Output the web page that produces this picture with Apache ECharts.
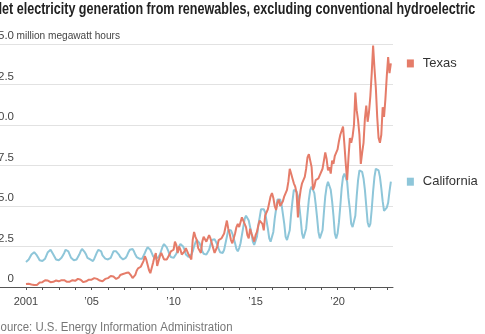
<!DOCTYPE html>
<html><head><meta charset="utf-8">
<script src="https://cdn.jsdelivr.net/npm/echarts@6/dist/echarts.min.js"></script>
<style>html,body{margin:0;padding:0;background:#fff;overflow:hidden}#c{width:485px;height:334px}</style>
</head><body><div id="c"></div>
<script>
// Monthly data, Jan 2001 onward (million megawatt hours)
const startYear = 2001;
const texas = [
  0.18,0.17,0.2,0.18,0.15,0.13,0.12,0.12,0.13,0.2,0.28,0.3,
  0.3,0.38,0.42,0.45,0.4,0.38,0.3,0.28,0.32,0.38,0.4,0.38,
  0.35,0.4,0.42,0.45,0.42,0.4,0.32,0.3,0.33,0.38,0.42,0.4,
  0.38,0.45,0.5,0.52,0.45,0.42,0.3,0.32,0.35,0.4,0.45,0.48,
  0.45,0.5,0.55,0.58,0.5,0.45,0.4,0.3,0.35,0.45,0.5,0.55,
  0.55,0.6,0.68,0.7,0.65,0.6,0.5,0.45,0.6,0.74,0.78,0.8,
  0.85,0.86,0.95,0.9,0.8,0.7,0.55,0.6,0.75,1.0,1.15,1.2,
  1.25,1.3,1.6,1.9,1.7,1.6,1.05,0.85,0.8,1.5,1.85,2.1,
  1.3,1.6,1.9,2.1,1.9,1.7,1.6,1.7,1.8,2.0,2.2,2.3,
  2.3,2.8,2.6,2.1,2.5,2.3,2.0,2.1,2.2,2.4,2.3,2.0,
  1.9,1.7,2.9,3.4,3.1,2.9,2.4,2.3,2.1,2.8,3.1,3.0,
  2.8,3.0,3.2,3.0,2.7,2.4,2.1,2.2,2.5,2.9,2.8,3.0,
  3.0,3.3,3.7,4.1,3.6,3.3,2.9,2.7,2.6,3.3,3.7,3.9,
  3.7,3.6,4.3,4.2,3.9,3.7,3.2,3.0,3.6,3.3,3.2,2.8,
  3.2,3.4,3.8,4.1,4.0,3.9,3.5,4.4,4.3,4.8,5.2,5.6,
  5.8,5.5,5.0,4.75,5.2,5.4,5.0,4.9,5.3,5.6,5.8,6.0,
  6.5,7.3,7.0,6.7,6.4,6.2,5.8,4.3,5.4,6.0,6.4,6.6,
  6.8,7.3,8.0,8.2,8.3,7.4,6.0,6.2,6.6,6.5,6.7,6.9,
  7.0,7.3,7.8,8.3,7.9,7.2,7.4,7.0,7.8,7.6,8.1,8.3,
  8.5,9.0,9.4,9.5,9.9,8.8,7.6,6.6,8.0,9.2,8.9,9.3,
  10.0,12.0,10.9,10.3,9.4,7.6,8.3,8.9,10.4,11.2,10.2,10.8,
  11.8,13.2,14.9,13.5,12.3,10.5,9.2,8.9,9.4,11.1,10.5,11.6,
  13.0,14.2,13.2,13.8
];
const california = [
  1.55,1.6,1.7,1.85,2.0,2.1,2.15,2.1,1.95,1.8,1.65,1.6,
  1.6,1.65,1.75,1.95,2.15,2.25,2.3,2.2,2.0,1.85,1.7,1.65,
  1.65,1.6,1.8,1.95,2.1,2.3,2.25,2.2,2.0,1.8,1.7,1.65,
  1.65,1.7,1.85,2.0,2.2,2.35,2.3,2.15,2.0,1.8,1.7,1.7,
  1.65,1.6,1.75,1.95,2.15,2.3,2.25,2.2,1.95,1.85,1.75,1.7,
  1.7,1.75,1.8,2.0,2.2,2.3,2.2,2.15,2.0,1.85,1.75,1.7,
  1.75,1.8,1.95,2.15,2.3,2.4,2.35,2.2,2.0,1.85,1.8,1.75,
  1.7,1.75,1.85,2.1,2.3,2.45,2.4,2.3,2.1,1.9,1.8,1.75,
  1.75,1.85,2.0,2.25,2.5,2.65,2.6,2.45,2.25,2.0,1.85,1.8,
  1.8,1.9,2.05,2.3,2.5,2.65,2.6,2.5,2.3,2.0,1.9,1.85,
  1.9,2.0,2.2,2.5,2.75,2.9,2.8,2.7,2.5,2.2,2.05,1.95,
  2.0,2.1,2.3,2.6,2.9,3.0,2.95,2.8,2.6,2.35,2.15,2.05,
  2.1,2.3,2.7,3.1,3.5,3.6,3.5,3.3,3.0,2.7,2.35,2.2,
  2.4,2.7,3.2,3.7,4.2,4.4,4.3,4.1,3.7,3.3,2.8,2.6,
  2.7,3.1,3.8,4.3,4.8,4.9,4.8,4.6,4.1,3.6,3.0,2.8,
  2.9,3.4,4.2,4.8,5.4,5.5,5.4,5.1,4.5,3.9,3.1,2.9,
  3.0,3.5,4.5,5.3,6.0,6.1,5.9,5.6,5.0,4.2,3.3,3.0,
  3.1,3.6,4.5,5.4,6.0,6.2,6.1,5.8,5.1,4.3,3.4,3.0,
  3.0,3.5,4.6,5.6,6.2,6.5,6.4,6.0,5.3,4.4,3.3,3.0,
  3.3,4.0,5.0,6.1,6.8,7.0,6.9,6.5,5.5,4.8,3.9,3.7,
  3.7,4.4,5.6,6.6,7.2,7.3,7.1,6.7,6.0,5.0,4.0,3.7,
  3.9,4.8,5.9,6.8,7.3,7.4,7.2,6.8,6.1,5.3,4.7,4.6,
  4.9,5.2,5.9,6.5
];
const seriesNames = ['Texas', 'California'];
const xTickYears = [2001,2002,2003,2004,2005,2006,2007,2008,2009,2010,2011,2012,2013,2014,2015,2016,2017,2018,2019,2020,2021,2022,2023];
const xLabelYears = [2001,2005,2010,2015,2020];
const yTicks = [0,2.5,5,7.5,10,12.5,15];
const yUnit = 'million megawatt hours';
const titleText = 'Net electricity generation from renewables, excluding conventional hydroelectric';
const sourceText = 'Source: U.S. Energy Information Administration';

const colors = { Texas: '#e57c69', California: '#8ec6d9' };
const sans = '"Liberation Sans", Arial, sans-serif';

const toPoints = arr => arr.map((v, i) => [startYear + i / 12, v]);
const fmtY = v => v === 0 ? '0' : v.toFixed(1);
const fmtX = v => v === startYear ? String(v) : '\u2019' + String(v).slice(2);

function makeSeries(name, arr, z) {
  return {
    name, type: 'line', data: toPoints(arr), showSymbol: false, z,
    lineStyle: { width: 2, color: colors[name] }, itemStyle: { color: colors[name] },
    endLabel: {
      show: true, distance: 16, formatter: '{s|}{t|' + name + '}',
      rich: {
        s: { backgroundColor: colors[name], width: 7, height: 8 },
        t: { fontFamily: sans, fontSize: 13, color: '#333', padding: [0, 0, 0, 9] }
      }
    },
    emphasis: { disabled: true }
  };
}

const chart = echarts.init(document.getElementById('c'), null, { renderer: 'canvas' });
chart.setOption({
  animation: false,
  grid: { left: -6, right: 92, top: 44, bottom: 47, containLabel: false, outerBoundsMode: 'none' },
  xAxis: {
    type: 'value', min: 1999.05, max: 2023.38,
    axisLine: { show: true, lineStyle: { color: '#555', width: 1 } },
    axisTick: { show: true, customValues: xTickYears, length: 3, lineStyle: { color: '#555' } },
    axisLabel: { customValues: xLabelYears, formatter: fmtX, color: '#444', fontFamily: sans, fontSize: 11, margin: 9 },
    splitLine: { show: false }
  },
  yAxis: {
    type: 'value', min: 0, max: 15, interval: 2.5,
    axisLine: { show: false }, axisTick: { show: false },
    splitLine: { lineStyle: { color: '#e2e2e2', width: 1 } },
    axisLabel: {
      inside: true, margin: 0, align: 'left', verticalAlign: 'bottom', padding: [0, 0, 2, 0],
      color: '#444', fontFamily: sans, fontSize: 11.5,
      formatter: v => '{n|' + fmtY(v) + '}',
      rich: { n: { width: 20, align: 'right', fontFamily: sans, fontSize: 11.5, color: '#444' } }
    }
  },
  graphic: [
    { type: 'text', x: -7, y: 2, scaleX: 0.785, style: { text: titleText, font: 'bold 16px ' + sans, fill: '#222', textVerticalAlign: 'top' } },
    { type: 'text', x: 16.5, y: 42, scaleX: 0.88, style: { text: yUnit, font: '11.5px ' + sans, fill: '#444', textVerticalAlign: 'bottom' } },
    { type: 'text', x: -7, y: 322, scaleX: 0.95, style: { text: sourceText, font: '12px ' + sans, fill: '#777', textVerticalAlign: 'top' } }
  ],
  series: [ makeSeries('California', california, 2), makeSeries('Texas', texas, 3) ]
});
</script></body></html>
